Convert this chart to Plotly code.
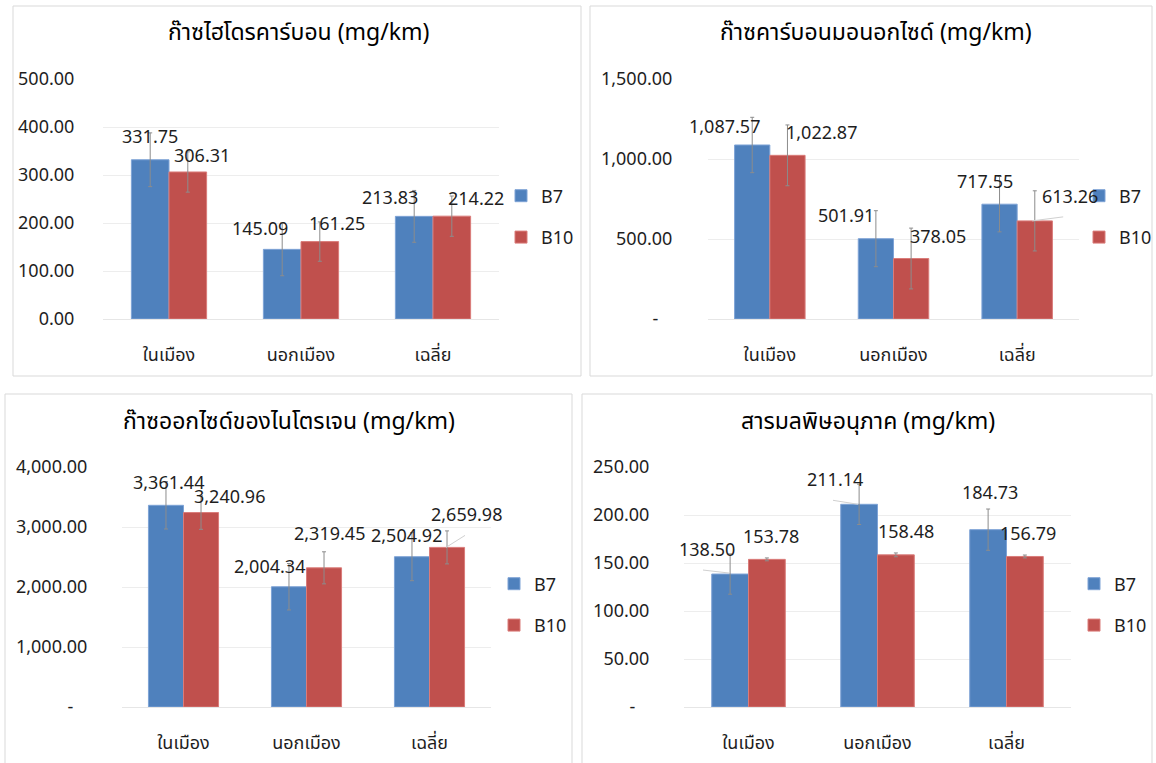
import plotly.graph_objects as go

W, H = 1156, 763

categories = ["ในเมือง", "นอกเมือง", "เฉลี่ย"]
series_names = ["B7", "B10"]

titles = [
    "ก๊าซไฮโดรคาร์บอน (mg/km)",
    "ก๊าซคาร์บอนมอนอกไซด์ (mg/km)",
    "ก๊าซออกไซด์ของไนโตรเจน (mg/km)",
    "สารมลพิษอนุภาค (mg/km)",
]

hc_b7 = [331.75, 145.09, 213.83]
hc_b10 = [306.31, 161.25, 214.22]
co_b7 = [1087.57, 501.91, 717.55]
co_b10 = [1022.87, 378.05, 613.26]
nox_b7 = [3361.44, 2004.34, 2504.92]
nox_b10 = [3240.96, 2319.45, 2659.98]
pm_b7 = [138.50, 211.14, 184.73]
pm_b10 = [153.78, 158.48, 156.79]

hc_err_b7 = [56, 55, 54]
hc_err_b10 = [42, 41, 42]
co_err_b7 = [173, 175, 173]
co_err_b10 = [190, 190, 188]
nox_err_b7 = [395, 387, 400]
nox_err_b10 = [280, 267, 275]
pm_err_b7 = [21, 21, 21.5]
pm_err_b10 = [1.5, 2, 1.5]

hc_ticks = [0, 100, 200, 300, 400, 500]
co_ticks = [0, 500, 1000, 1500]
nox_ticks = [0, 1000, 2000, 3000, 4000]
pm_ticks = [0, 50, 100, 150, 200, 250]

NB = "\u00a0"
hc_ticktext = ["0.00", "100.00", "200.00", "300.00", "400.00", "500.00"]
co_ticktext = ["-" + NB * 3, "500.00", "1,000.00", "1,500.00"]
nox_ticktext = ["-" + NB * 3, "1,000.00", "2,000.00", "3,000.00", "4,000.00"]
pm_ticktext = ["-" + NB * 3, "50.00", "100.00", "150.00", "200.00", "250.00"]

BLUE = "#4F81BD"
RED = "#C0504D"
FONT = "Tahoma, 'Noto Sans Thai', 'Noto Sans', 'DejaVu Sans', sans-serif"
TXT = "#1E1E1E"

panels = [
    dict(b7=hc_b7, b10=hc_b10, e7=hc_err_b7, e10=hc_err_b10, ticks=hc_ticks, tt=hc_ticktext,
         rng=[0, 500], px=(103, 499), py=(79, 319), ticklen=24,
         box=(13, 6, 581, 376), title_xy=(298, 33), leg=(501, 216.5)),
    dict(b7=co_b7, b10=co_b10, e7=co_err_b7, e10=co_err_b10, ticks=co_ticks, tt=co_ticktext,
         rng=[0, 1500], px=(708, 1079), py=(79, 319), ticklen=31,
         box=(590, 6, 1152, 376), title_xy=(876, 33), leg=(1079, 216.5)),
    dict(b7=nox_b7, b10=nox_b10, e7=nox_err_b7, e10=nox_err_b10, ticks=nox_ticks, tt=nox_ticktext,
         rng=[0, 4000], px=(122, 491), py=(467, 707), ticklen=30,
         box=(5, 394, 572, 770), title_xy=(289, 422), leg=(494, 604.5)),
    dict(b7=pm_b7, b10=pm_b10, e7=pm_err_b7, e10=pm_err_b10, ticks=pm_ticks, tt=pm_ticktext,
         rng=[0, 250], px=(684, 1071), py=(467, 707), ticklen=30,
         box=(582, 394, 1152, 770), title_xy=(868, 422), leg=(1074, 604.5)),
]

# label offsets in px: (xshift from category center, yshift above bar top)
label_specs = [
    [(-19, 22), (33, 15), (-41, 20), (36, 17), (-43, 18), (43, 17)],
    [(-45, 17), (52, 22), (-47, 22), (45, 21), (-32, 22), (53, 23)],
    [(-15, 22), (46, 15), (-37, 19), (23, 33), (-23, 20), (36.5, 32)],
    [(-41.5, 24), (22, 22), (-42.5, 24), (28, 22), (-17, 36), (21, 22)],
]
# leader lines: (panel, label index, x0, y0, x1, y1) in px relative to category center / bar top
leaders = [
    (1, 5, 15, 0, 46, 4),
    (2, 5, 16.5, 0, 35.5, 12),
    (3, 0, -45.5, 4, -19.5, 1),
    (3, 2, -44.5, 4, -19.5, 0),
]

fig = go.Figure()
shapes = []
annotations = []

for i, p in enumerate(panels):
    n = "" if i == 0 else str(i + 1)
    xa, ya = "x" + n, "y" + n
    leg = "legend" + n
    for name, vals, errs, col, lcol in [("B7", p["b7"], p["e7"], BLUE, "#7EA3D6"),
                                        ("B10", p["b10"], p["e10"], RED, "#DA7C7A")]:
        fig.add_trace(go.Bar(
            x=categories, y=vals, name=name, xaxis=xa, yaxis=ya,
            marker=dict(color=col, line=dict(color=lcol, width=1)),
            error_y=dict(type="data", array=errs, visible=True, color="#8C8C8C", thickness=1, width=2),
            legend=leg, legendgroup=name + n, showlegend=True,
        ))
    x0, x1 = p["px"]
    y0, y1 = p["py"]
    lay_x = "xaxis" + n
    lay_y = "yaxis" + n
    fig.layout[lay_x] = dict(
        domain=[x0 / W, x1 / W], anchor=ya, range=[-0.5, len(categories) - 0.5],
        showgrid=False, zeroline=False,
        showline=True, linecolor="#E6E6E6", linewidth=1, automargin=False,
        ticks="outside", ticklen=19, tickcolor="rgba(0,0,0,0)",
        tickfont=dict(family=FONT, size=18, color=TXT), fixedrange=True,
    )
    fig.layout[lay_y] = dict(
        domain=[1 - y1 / H, 1 - y0 / H], anchor=xa, range=p["rng"], automargin=False,
        tickvals=p["ticks"], ticktext=p["tt"], showgrid=True, gridcolor="#EDEDED", gridwidth=1,
        zeroline=False, showline=False,
        ticks="outside", ticklen=p["ticklen"], tickcolor="rgba(0,0,0,0)",
        tickfont=dict(family=FONT, size=18, color=TXT), fixedrange=True,
    )
    bx0, by0, bx1, by1 = p["box"]
    shapes.append(dict(type="rect", xref="paper", yref="paper",
                       x0=bx0 / W, x1=bx1 / W, y0=1 - by1 / H, y1=1 - by0 / H,
                       line=dict(color="#D9D9D9", width=1), fillcolor="rgba(0,0,0,0)", layer="below"))
    tx, ty = p["title_xy"]
    annotations.append(dict(text=titles[i], xref="paper", yref="paper", x=tx / W, y=1 - ty / H,
                            xanchor="center", yanchor="middle", showarrow=False,
                            font=dict(family=FONT, size=23, color="#000000")))
    lx, ly = p["leg"]
    fig.layout[leg] = dict(x=lx / W, y=1 - ly / H, xanchor="left", yanchor="middle",
                           font=dict(family=FONT, size=18, color=TXT), bgcolor="rgba(0,0,0,0)",
                           tracegroupgap=15, traceorder="grouped")
    all_vals = []
    for k in range(3):
        all_vals.append((k, p["b7"][k]))
        all_vals.append((k, p["b10"][k]))
    for j, (k, v) in enumerate(all_vals):
        xs, ys = label_specs[i][j]
        annotations.append(dict(text=f"{v:,.2f}", xref=xa, yref=ya, x=categories[k], y=v,
                                xshift=xs, yshift=ys, showarrow=False,
                                xanchor="center", yanchor="middle",
                                font=dict(family=FONT, size=18, color=TXT)))
    for (pi, j, lx0, ly0, lx1, ly1) in leaders:
        if pi != i:
            continue
        k, v = all_vals[j]
        shapes.append(dict(type="line", xref=xa, yref=ya,
                           xsizemode="pixel", xanchor=k, x0=lx0, x1=lx1,
                           ysizemode="pixel", yanchor=v, y0=ly0, y1=ly1,
                           line=dict(color="#D0D0D0", width=1), layer="above"))

fig.update_layout(
    width=W, height=H, margin=dict(l=0, r=0, t=0, b=0, autoexpand=False),
    paper_bgcolor="white", plot_bgcolor="white",
    barmode="group", bargap=0.43, bargroupgap=0,
    shapes=shapes, annotations=annotations, showlegend=True,
    font=dict(family=FONT, color=TXT),
)

fig.write_html("out.html")
